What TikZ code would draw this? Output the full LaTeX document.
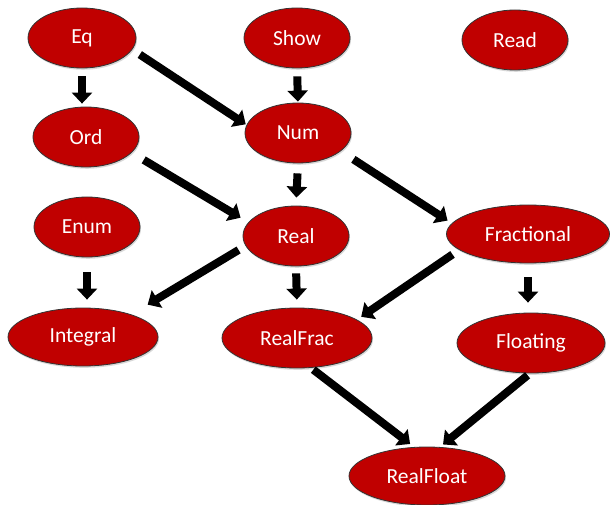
\documentclass[tikz,border=0pt]{standalone}
\usepackage{fontspec}
\setmainfont{Carlito}
\usetikzlibrary{shapes.geometric,arrows.meta,shadows}
\definecolor{cls}{HTML}{C00000}
\tikzset{
  cnode/.style={ellipse, fill=cls, draw=black!80, line width=0.8pt, text=white,
    inner sep=0pt, font=\fontsize{21.5}{25}\selectfont,
    drop shadow={shadow xshift=1pt, shadow yshift=-1.8pt, fill=black!30}},
  arr/.style={line width=8pt, -{Triangle[width=20pt,length=11pt]}, black},
}
\begin{document}
\begin{tikzpicture}[x=1pt,y=-1pt]
\useasboundingbox (0,0) rectangle (610,505);
\node[cnode, minimum width=108pt, minimum height=60pt] (Eq) at (82,38) {Eq};
\node[cnode, minimum width=106pt, minimum height=60pt] (Show) at (297,38) {Show};
\node[cnode, minimum width=106pt, minimum height=60pt] (Read) at (515,40) {Read};
\node[cnode, minimum width=106pt, minimum height=60pt] (Ord) at (86,137) {Ord};
\node[cnode, minimum width=106pt, minimum height=60pt] (Num) at (298,133) {Num};
\node[cnode, minimum width=106pt, minimum height=60pt] (Enum) at (87,227) {Enum};
\node[cnode, minimum width=106pt, minimum height=60pt] (Real) at (296,236) {Real};
\node[cnode, minimum width=163pt, minimum height=58pt] (Fractional) at (528,234) {Fractional};
\node[cnode, minimum width=150pt, minimum height=58pt] (Integral) at (83,337) {Integral};
\node[cnode, minimum width=150pt, minimum height=60pt] (RealFrac) at (297,338) {RealFrac};
\node[cnode, minimum width=148pt, minimum height=60pt] (Floating) at (531,343) {Floating};
\node[cnode, minimum width=156pt, minimum height=58pt] (RealFloat) at (427,476) {RealFloat};

\draw[arr, shorten <=8pt, shorten >=3pt] (Eq.south) -- (Eq.south |- Ord.north);
\draw[arr, shorten <=9pt, shorten >=1pt] (Eq.-13) -- (Num.171);
\draw[arr, shorten <=8pt, shorten >=1pt] (Show.south) -- (Num.north);
\draw[arr, shorten <=14pt, shorten >=9pt] (Ord.-19) -- (Real.164);
\draw[arr, shorten <=10pt, shorten >=8pt] (Num.south) -- (Real.north);
\draw[arr, shorten <=15pt, shorten >=5pt] (Num.-23) -- (Fractional.172);
\draw[arr, shorten <=15pt, shorten >=8pt] (Enum.south) -- (Enum.south |- Integral.north);
\draw[arr, shorten <=8pt, shorten >=19pt] (Real.191) -- (Integral.25);
\draw[arr, shorten <=7pt, shorten >=8pt] (Real.south) -- (RealFrac.north);
\draw[arr, shorten <=8pt, shorten >=5pt] (Fractional.193) -- (RealFrac.17);
\draw[arr, shorten <=14pt, shorten >=10pt] (Fractional.south) -- (Fractional.south |- Floating.north);
\draw[arr, shorten <=3pt, shorten >=5pt] (RealFrac.-65) -- (RealFloat.114);
\draw[arr, shorten <=3pt, shorten >=4pt] (Floating.-92) -- (RealFloat.66);
\end{tikzpicture}
\end{document}
